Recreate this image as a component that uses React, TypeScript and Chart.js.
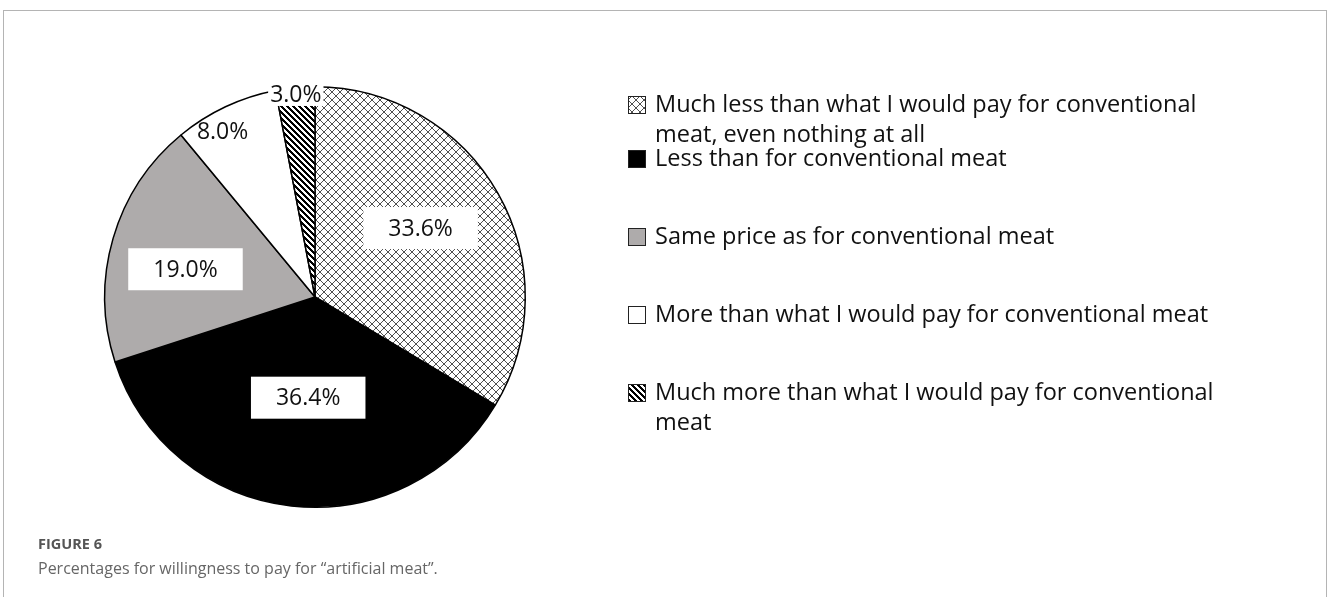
import React, { useEffect, useRef } from "react";
import { Chart, registerables } from "chart.js";

Chart.register(...registerables);

// ---------- data ----------
const categories = [
  "Much less than what I would pay for conventional meat, even nothing at all",
  "Less than for conventional meat",
  "Same price as for conventional meat",
  "More than what I would pay for conventional meat",
  "Much more than what I would pay for conventional meat",
];
const legendLines = [
  ["Much less than what I would pay for conventional", "meat, even nothing at all"],
  ["Less than for conventional meat"],
  ["Same price as for conventional meat"],
  ["More than what I would pay for conventional meat"],
  ["Much more than what I would pay for conventional", "meat"],
];
const values = [33.6, 36.4, 19.0, 8.0, 3.0];
const valueLabels = ["33.6%", "36.4%", "19.0%", "8.0%", "3.0%"];

const captionTitle = "FIGURE 6";
const captionText = "Percentages for willingness to pay for \u201Cartificial meat\u201D.";

// ---------- styles ----------
const fillKinds = ["crosshatch", "#000000", "#aeabab", "#ffffff", "diagonal"];
const labelRadius = [0.6, 0.48, 0.63, 0.9, 0.97];
const labelAngleFrac = [0.47, 0.48, 0.44, 0.36, 0.5];
const labelPadX = [25, 25, 25, -1, 2];
const labelBoxH = [42, 42, 42, 0, 24];
const legendRowY = [105, 159, 237, 315, 393];
const FONT = "'Open Sans', 'Noto Sans', sans-serif";

function makePattern(kind: string): CanvasPattern | string {
  if (kind !== "crosshatch" && kind !== "diagonal") return kind;
  const c = document.createElement("canvas");
  const size = kind === "crosshatch" ? 8 : 6;
  c.width = size;
  c.height = size;
  const g = c.getContext("2d")!;
  const img = g.createImageData(size, size);
  const set = (x: number, y: number, v: number) => {
    const k = (y * size + x) * 4;
    img.data[k] = v;
    img.data[k + 1] = v;
    img.data[k + 2] = v;
    img.data[k + 3] = 255;
  };
  for (let y = 0; y < size; y++)
    for (let x = 0; x < size; x++) set(x, y, 255);
  if (kind === "crosshatch") {
    for (let i = 0; i < size; i++) {
      set(i, i, 80);
      set(size - 1 - i, i, 80);
    }
  } else {
    for (let y = 0; y < size; y++)
      for (let x = 0; x < size; x++) {
        if ((((x - y) % size) + size) % size < 3) set(x, y, 0);
      }
  }
  g.putImageData(img, 0, 0);
  return g.createPattern(c, "repeat")!;
}

export default function App() {
  const ref = useRef<HTMLCanvasElement | null>(null);

  useEffect(() => {
    if (!ref.current) return;
    const fills = fillKinds.map(makePattern);

    const labelPlugin = {
      id: "sliceLabels",
      afterDatasetsDraw(chart: any) {
        const ctx = chart.ctx as CanvasRenderingContext2D;
        const meta = chart.getDatasetMeta(0);
        ctx.save();
        ctx.font = `23px ${FONT}`;
        ctx.textAlign = "center";
        ctx.textBaseline = "middle";
        meta.data.forEach((arc: any, i: number) => {
          const p = arc.getProps(["x", "y", "startAngle", "endAngle", "outerRadius"], true);
          const ang = p.startAngle + (p.endAngle - p.startAngle) * labelAngleFrac[i];
          const r = p.outerRadius * labelRadius[i];
          const px = p.x + Math.cos(ang) * r;
          const py = p.y + Math.sin(ang) * r;
          const w = ctx.measureText(valueLabels[i]).width;
          if (labelPadX[i] >= 0 && labelBoxH[i] > 0) {
            ctx.fillStyle = "#ffffff";
            ctx.fillRect(px - w / 2 - labelPadX[i], py - labelBoxH[i] / 2, w + 2 * labelPadX[i], labelBoxH[i]);
          }
          ctx.fillStyle = "#111";
          ctx.fillText(valueLabels[i], px, py + 1);
        });
        ctx.restore();
      },
    };

    const legendPlugin = {
      id: "sideLegend",
      afterDraw(chart: any) {
        const ctx = chart.ctx as CanvasRenderingContext2D;
        const boxX = 628;
        const boxS = 18;
        const textX = 655;
        const lineH = 30;
        ctx.save();
        ctx.font = `23.5px ${FONT}`;
        ctx.textAlign = "left";
        ctx.textBaseline = "middle";
        legendLines.forEach((lines, i) => {
          const cy = legendRowY[i];
          ctx.fillStyle = fills[i] as any;
          ctx.fillRect(boxX, cy - boxS / 2, boxS, boxS);
          ctx.strokeStyle = "#222";
          ctx.lineWidth = 1;
          ctx.strokeRect(boxX + 0.5, cy - boxS / 2 + 0.5, boxS - 1, boxS - 1);
          ctx.fillStyle = "#111";
          lines.forEach((t, k) => ctx.fillText(t, textX, cy + k * lineH));
        });
        ctx.restore();
      },
    };

    const chart = new Chart(ref.current, {
      type: "pie",
      data: {
        labels: categories,
        datasets: [
          {
            data: values,
            backgroundColor: fills as any,
            borderColor: "#000000",
            borderWidth: 1.5,
          },
        ],
      },
      options: {
        responsive: false,
        animation: false,
        layout: { padding: { left: 104, top: 86, right: 801, bottom: 89 } },
        plugins: {
          legend: { display: false },
          tooltip: { enabled: false },
        },
      },
      plugins: [labelPlugin, legendPlugin],
    } as any);
    return () => chart.destroy();
  }, []);

  return (
    <div style={{ position: "absolute", left: 0, top: 0, width: 1327, height: 597, overflow: "hidden", background: "#fff" }}>
      <div
        style={{
          position: "absolute",
          left: 3,
          top: 10,
          width: 1324,
          height: 640,
          boxSizing: "border-box",
          borderTop: "1px solid #b4b4b4",
          borderLeft: "1px solid #b4b4b4",
          borderRight: "1px solid #b4b4b4",
        }}
      />
      <canvas ref={ref} width={1327} height={597} style={{ position: "absolute", left: 0, top: 0 }} />
      <div style={{ position: "absolute", left: 38, top: 534, font: `bold 14.5px ${FONT}`, color: "#555" }}>{captionTitle}</div>
      <div style={{ position: "absolute", left: 38, top: 557, font: `16px ${FONT}`, color: "#666", whiteSpace: "nowrap" }}>
        {captionText}
      </div>
    </div>
  );
}
